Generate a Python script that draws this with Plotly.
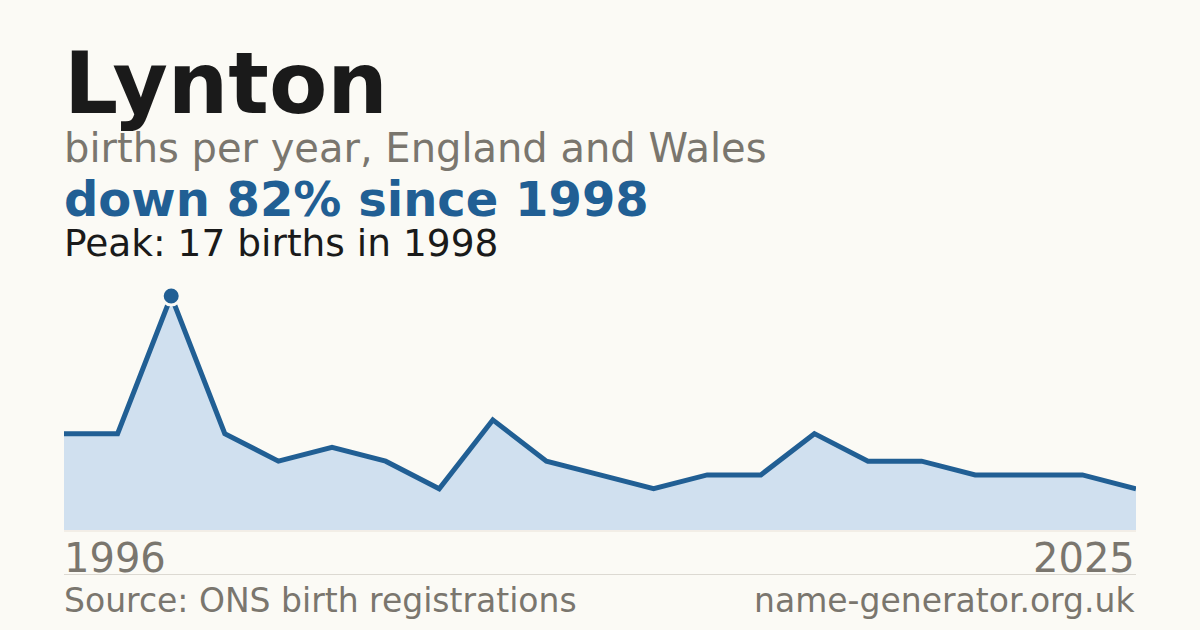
import plotly.graph_objects as go

# births per year, Lynton (first point 1996, last 2025)
births = [7, 7, 17, 7, 5, 6, 5, 3, 8, 5, 4, 3, 4, 4, 7, 5, 5, 4, 4, 4, 3]
first_year = "1996"
last_year = "2025"
peak_idx = 2

bg = "#fbfaf5"
blue = "#215f94"
grey = "#7a766e"

W, H = 1200, 630
x_pts = list(range(len(births)))


def py(px):
    # pixel row -> paper fraction
    return 1 - px / H


fig = go.Figure()

fig.add_trace(go.Scatter(
    x=x_pts, y=births, mode="lines",
    line=dict(color=blue, width=5),
    fill="tozeroy", fillcolor="#d0e0ef",
    hoverinfo="skip", cliponaxis=False,
))
fig.add_trace(go.Scatter(
    x=[x_pts[peak_idx]], y=[births[peak_idx]], mode="markers",
    marker=dict(color=blue, size=18, line=dict(color=bg, width=3)),
    hoverinfo="skip", cliponaxis=False,
))

fig.update_layout(
    width=W, height=H,
    paper_bgcolor=bg, plot_bgcolor=bg,
    margin=dict(l=0, r=0, t=0, b=0),
    showlegend=False,
    font=dict(family="DejaVu Sans", color=grey),
    xaxis=dict(domain=[64 / W, 1136 / W], range=[0, len(births) - 1],
               visible=False, fixedrange=True),
    yaxis=dict(domain=[py(530), py(296)], range=[0, max(births)],
               visible=False, fixedrange=True),
)

# baseline and separator
fig.add_shape(type="line", xref="paper", yref="paper",
              x0=64 / W, x1=1136 / W, y0=py(531), y1=py(531),
              line=dict(color="#e9e1d8", width=1))
fig.add_shape(type="line", xref="paper", yref="paper",
              x0=64 / W, x1=1136 / W, y0=py(574.5), y1=py(574.5),
              line=dict(color="#dcd9d2", width=1))


def label(text, x, base, size, color, bold=False, anchor="left"):
    # base = pixel baseline of the text (roughly)
    bottom = base + 0.236 * size + 1
    fig.add_annotation(
        text=f"<b>{text}</b>" if bold else text,
        xref="paper", yref="paper", x=x, y=py(bottom),
        xanchor=anchor, yanchor="bottom", showarrow=False,
        font=dict(size=size, color=color, family="DejaVu Sans"),
        xshift=-2 if anchor == "left" else 1,
    )


label("Lynton", 64 / W, 114, 85, "#1a1a1a", bold=True)
label("births per year, England and Wales", 64 / W, 163, 40, grey)
label("down 82% since 1998", 64 / W, 217, 48, blue, bold=True)
label("Peak: 17 births in 1998", 64 / W, 257, 37.5, "#1a1a1a")
label(first_year, 64 / W, 573, 40, grey)
label(last_year, 1136 / W, 573, 40, grey, anchor="right")
label("Source: ONS birth registrations", 64 / W, 613, 33, grey)
label("name-generator.org.uk", 1136 / W, 613, 33, grey, anchor="right")

# page body has a default margin; drop it so the chart sits at 0,0
fig.write_html("out.html", config={"displayModeBar": False},
               post_script="document.body.style.margin='0';")
